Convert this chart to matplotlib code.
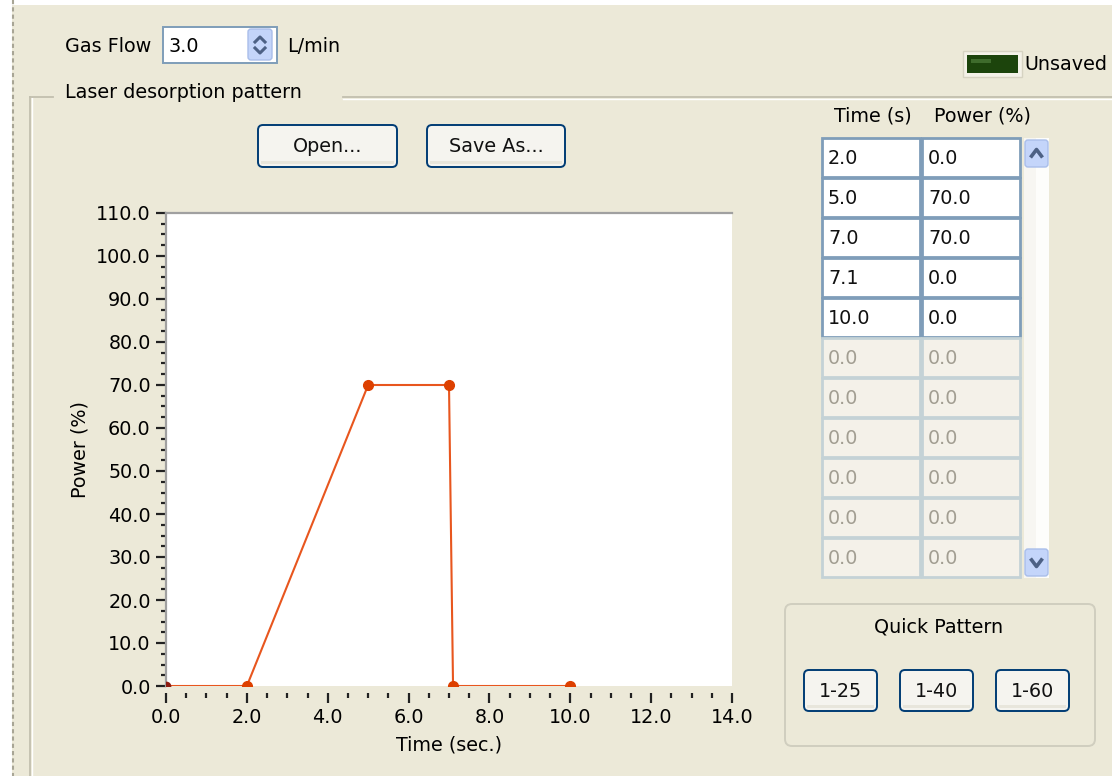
import numpy as np
import matplotlib
matplotlib.use("Agg")
from matplotlib import pyplot as plt
from matplotlib.patches import Rectangle, FancyBboxPatch
from matplotlib.ticker import MultipleLocator, FormatStrFormatter

# ______________________________________________________________________________________________________________________
# Data

time_s = [0.0, 2.0, 5.0, 7.0, 7.1, 10.0]
power_pct = [0.0, 0.0, 70.0, 70.0, 0.0, 0.0]
table_time = ["2.0", "5.0", "7.0", "7.1", "10.0"]
table_power = ["0.0", "70.0", "70.0", "0.0", "0.0"]
n_empty_rows = 6
gas_flow = "3.0"
quick_patterns = ["1-25", "1-40", "1-60"]

bg = "#ECE9D8"
line_col = "#E8561E"
marker_col = "#DD4000"
fs = 13.8

plt.rcParams['font.family'] = ['DejaVu Sans']

W, H = 1112, 776
fig = plt.figure(figsize=(W / 100, H / 100), dpi=100, facecolor=bg)

# ______________________________________________________________________________________________________________________
# Window widgets, drawn in pixel coordinates

ui = fig.add_axes([0, 0, 1, 1])
ui.set_xlim(0, W)
ui.set_ylim(H, 0)
ui.axis("off")
ui.set_facecolor(bg)


def button(x, y, w, h, label):
    """Draw an XP style push button"""
    ui.add_patch(FancyBboxPatch((x, y), w, h, boxstyle="round,pad=0,rounding_size=5",
                                facecolor="#F5F4EF", edgecolor="#003C74", linewidth=1.4))
    ui.add_patch(Rectangle((x + 3, y + h - 6), w - 6, 3, facecolor="#E8E6DC", edgecolor="none"))
    ui.text(x + w / 2, y + h / 2 + 1, label, ha="center", va="center", fontsize=fs, color="#111111")


def spin_button(x, y, w, h, up=True):
    """Draw a small blue scroll / spin button with a chevron"""
    ui.add_patch(FancyBboxPatch((x, y), w, h, boxstyle="round,pad=0,rounding_size=3",
                                facecolor="#C4D5FA", edgecolor="#A9BEEA", linewidth=1))
    cx, cy = x + w / 2, y + h / 2
    d = 4 if up else -4
    ui.plot([cx - 6, cx, cx + 6], [cy + d, cy - d, cy + d], color="#4D6185", linewidth=2.6,
            solid_capstyle="butt")


# left white strip and dashed border
ui.add_patch(Rectangle((0, 0), 12, H, facecolor="white", edgecolor="none"))
ui.add_patch(Rectangle((0, 0), W, 5, facecolor="white", edgecolor="none"))
ui.plot([13, 13], [0, H], color="#A8A595", linewidth=1.5, linestyle=(0, (2, 1.5)))

# gas flow control
ui.text(65, 47, "Gas Flow", ha="left", va="center", fontsize=fs)
ui.add_patch(Rectangle((163, 27), 114, 36, facecolor="white", edgecolor="#7F9DB9", linewidth=1.4))
ui.text(169, 46, gas_flow, ha="left", va="center", fontsize=fs)
ui.add_patch(FancyBboxPatch((248, 29), 24, 31, boxstyle="round,pad=0,rounding_size=3",
                            facecolor="#C4D5FA", edgecolor="#A9BEEA", linewidth=1))
ui.plot([255, 260, 265], [42, 37, 42], color="#4D6185", linewidth=2.2)
ui.plot([255, 260, 265], [48, 53, 48], color="#4D6185", linewidth=2.2)
ui.text(287, 46, "L/min", ha="left", va="center", fontsize=fs)

# unsaved indicator
ui.add_patch(Rectangle((963, 51), 59, 26, facecolor="#F4F2E8", edgecolor="#D6D3C2", linewidth=1))
ui.add_patch(Rectangle((967, 55), 51, 18, facecolor="#1C440C", edgecolor="none"))
ui.add_patch(Rectangle((971, 59), 20, 4, facecolor="#3E6B2C", edgecolor="none"))
ui.text(1024, 65, "Unsaved", ha="left", va="center", fontsize=fs)

# group box "Laser desorption pattern"
gb_col = "#C2BFAF"
ui.plot([30, 30], [97, H], color=gb_col, linewidth=1.3)
ui.plot([31.5, 31.5], [98, H], color="white", linewidth=1)
ui.plot([30, 53], [97, 97], color=gb_col, linewidth=1.3)
ui.plot([343, W], [97, 97], color=gb_col, linewidth=1.3)
ui.plot([343, W], [98.5, 98.5], color="white", linewidth=1)
ui.text(65, 92, "Laser desorption pattern", ha="left", va="center", fontsize=fs)

button(258, 125, 139, 42, "Open...")
button(427, 125, 138, 42, "Save As...")

# pattern table
col_x = [822, 922]
col_w = 98
row_y0, row_h = 138, 40
ui.text(873, 116, "Time (s)", ha="center", va="center", fontsize=fs)
ui.text(982, 116, "Power (%)", ha="center", va="center", fontsize=fs)
ui.add_patch(Rectangle((1024, 138), 25, 440, facecolor="#F7F6F2", edgecolor="none"))
ui.add_patch(Rectangle((1036, 138), 13, 440, facecolor="#FDFDFB", edgecolor="none"))
for i in range(len(table_time) + n_empty_rows):
    y = row_y0 + i * row_h
    active = i < len(table_time)
    vals = (table_time[i], table_power[i]) if active else ("0.0", "0.0")
    for cx, val in zip(col_x, vals):
        ui.add_patch(Rectangle((cx, y), col_w, row_h - 1,
                               facecolor="white" if active else "#F4F1E9",
                               edgecolor="#7F9DB9" if active else "#C4D2D6", linewidth=2))
        ui.text(cx + 6, y + row_h / 2, val, ha="left", va="center", fontsize=fs,
                color="#111111" if active else "#A29E92")
spin_button(1025, 140, 23, 27, up=True)
spin_button(1025, 549, 23, 27, up=False)

# quick pattern box
ui.add_patch(FancyBboxPatch((785, 604), 310, 142, boxstyle="round,pad=0,rounding_size=7",
                            facecolor="none", edgecolor="#D0CEBF", linewidth=1.4))
ui.text(939, 627, "Quick Pattern", ha="center", va="center", fontsize=fs)
for k, label in enumerate(quick_patterns):
    button(804 + k * 96, 670, 73, 41, label)

# ______________________________________________________________________________________________________________________
# Chart

x_left, x_right, y_top, y_bottom = 166, 732, 213, 686
ax = fig.add_axes([x_left / W, 1 - y_bottom / H, (x_right - x_left) / W, (y_bottom - y_top) / H])
ax.set_facecolor("white")
ax.set_xlim(0, 14)
ax.set_ylim(0, 110)

ax.plot(time_s, power_pct, color=line_col, linewidth=1.5, zorder=3)
ax.plot(time_s[1:], power_pct[1:], linestyle="none", marker="o", markersize=7,
        color=marker_col, zorder=4)
ax.plot(time_s[:1], power_pct[:1], linestyle="none", marker="o", markersize=6,
        color="#8E1C10", zorder=4)

for side in ["right", "bottom"]:
    ax.spines[side].set_visible(False)
for side in ["left", "top"]:
    ax.spines[side].set_color("#A0A0A0")
    ax.spines[side].set_linewidth(1.6)
ax.spines["bottom"].set_position(("outward", 5))

ax.xaxis.set_major_locator(MultipleLocator(2))
ax.xaxis.set_minor_locator(MultipleLocator(0.5))
ax.yaxis.set_major_locator(MultipleLocator(10))
ax.yaxis.set_minor_locator(MultipleLocator(2.5))
ax.xaxis.set_major_formatter(FormatStrFormatter("%.1f"))
ax.yaxis.set_major_formatter(FormatStrFormatter("%.1f"))
ax.tick_params(which="major", length=7, width=1.6, color="#222222", labelsize=fs, pad=4)
ax.tick_params(which="minor", length=3.5, width=1.6, color="#222222")
ax.tick_params(axis="x", which="both", top=False)
ax.tick_params(axis="y", which="both", right=False)

ax.set_xlabel("Time (sec.)", fontsize=fs, labelpad=6)
ax.set_ylabel("Power (%)", fontsize=fs, labelpad=5)

plt.savefig("out.png", dpi=100, facecolor=bg)
